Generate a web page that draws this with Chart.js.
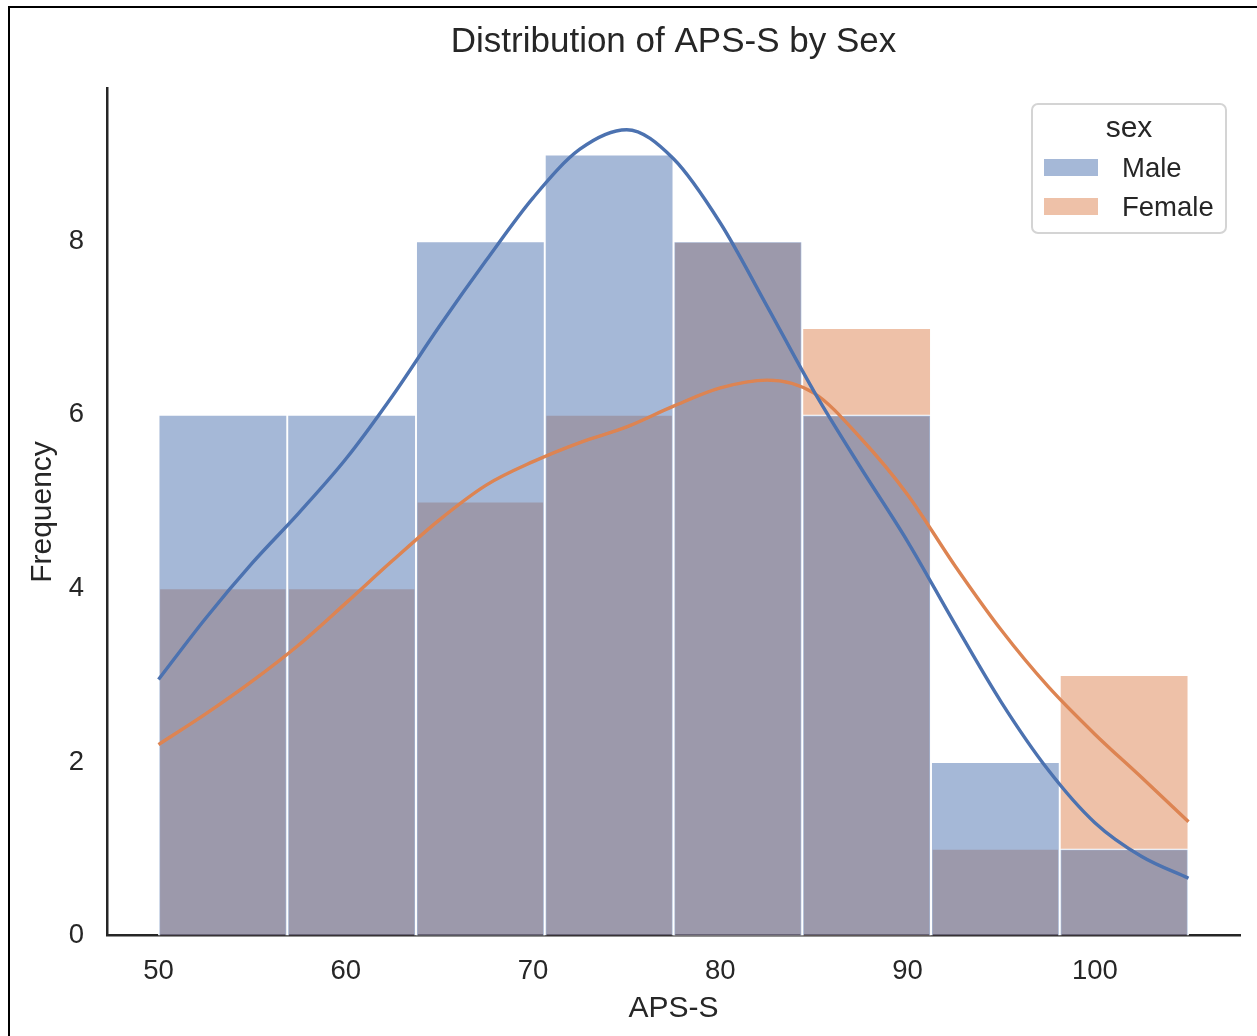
<!DOCTYPE html>
<html><head><meta charset="utf-8">
<script src="https://cdn.jsdelivr.net/npm/chart.js@4/dist/chart.umd.min.js"></script>
<style>
html,body{margin:0;padding:0;background:#fff;overflow:hidden;}
#wrap{position:relative;width:1257px;height:1036px;}
#frame{position:absolute;left:8px;top:6px;width:1300px;height:1100px;border:2px solid #000;box-sizing:border-box;pointer-events:none;}
canvas{position:absolute;left:0;top:0;}
</style></head><body>
<div id="wrap"><canvas id="c" width="1257" height="1036"></canvas><div id="frame"></div></div>
<script>
// ---- data ----
const binEdges = [50, 56.875, 63.75, 70.625, 77.5, 84.375, 91.25, 98.125, 105];
const maleCounts = [6, 6, 8, 9, 8, 6, 2, 1];
const femaleCounts = [4, 4, 5, 6, 8, 7, 1, 3];
const kdeX = [50, 52.5, 55, 57.5, 60, 62.5, 65, 67.5, 70, 72.5, 75, 77.5, 80, 82.5, 85, 87.5, 90, 92.5, 95, 97.5, 100, 102.5, 105];
const maleKde = [2.95, 3.65, 4.29, 4.87, 5.49, 6.22, 7.02, 7.78, 8.50, 9.06, 9.285, 8.95, 8.21, 7.25, 6.27, 5.39, 4.54, 3.60, 2.69, 1.91, 1.30, 0.91, 0.66];
const femaleKde = [2.20, 2.55, 2.93, 3.35, 3.83, 4.32, 4.79, 5.19, 5.46, 5.68, 5.86, 6.10, 6.31, 6.40, 6.25, 5.73, 5.08, 4.27, 3.52, 2.87, 2.32, 1.82, 1.31];
const xTicks = [50, 60, 70, 80, 90, 100];
const yTicks = [0, 2, 4, 6, 8];
const seriesNames = ['Male', 'Female'];
const legendTitle = 'sex';

const FONT = "'Liberation Sans', Arial, Helvetica, sans-serif";
const TXT = '#262626';
const maleLine = '#4c72b0', femaleLine = '#dd8452';
const maleFill = 'rgba(76,114,176,0.5)', femaleFill = 'rgba(221,132,82,0.5)';

const centers = maleCounts.map((_, i) => (binEdges[i] + binEdges[i + 1]) / 2);
const toXY = (xs, ys) => xs.map((x, i) => ({x: x, y: ys[i]}));

const legendPlugin = {
  id: 'seabornLegend',
  afterDraw(chart) {
    const ctx = chart.ctx, a = chart.chartArea;
    const bx = a.right - 208, by = a.top + 15.5, bw = 194, bh = 129, r = 6;
    ctx.save();
    ctx.beginPath();
    ctx.moveTo(bx + r, by);
    ctx.arcTo(bx + bw, by, bx + bw, by + bh, r);
    ctx.arcTo(bx + bw, by + bh, bx, by + bh, r);
    ctx.arcTo(bx, by + bh, bx, by, r);
    ctx.arcTo(bx, by, bx + bw, by, r);
    ctx.closePath();
    ctx.fillStyle = 'rgba(255,255,255,0.8)';
    ctx.fill();
    ctx.lineWidth = 2;
    ctx.strokeStyle = '#d4d4d4';
    ctx.stroke();
    ctx.fillStyle = TXT;
    ctx.textBaseline = 'alphabetic';
    ctx.font = '30px ' + FONT;
    ctx.textAlign = 'center';
    ctx.fillText(legendTitle, bx + 97, by + 33.3);
    ctx.font = '27.5px ' + FONT;
    ctx.textAlign = 'left';
    const fills = [maleFill, femaleFill];
    const patchY = [55, 94];
    const textY = [73.3, 112];
    seriesNames.forEach((n, i) => {
      ctx.fillStyle = '#fff';
      ctx.fillRect(bx + 12, by + patchY[i], 54, 17);
      ctx.fillStyle = fills[i];
      ctx.fillRect(bx + 12, by + patchY[i], 54, 17);
      ctx.fillStyle = TXT;
      ctx.fillText(n, bx + 90, by + textY[i]);
    });
    ctx.restore();
  }
};

new Chart(document.getElementById('c'), {
  type: 'bar',
  data: {
    datasets: [
      {type: 'line', label: seriesNames[0] + ' KDE', data: toXY(kdeX, maleKde), borderColor: maleLine, borderWidth: 3.4, pointRadius: 0, fill: false, cubicInterpolationMode: 'monotone', order: 0},
      {type: 'line', label: seriesNames[1] + ' KDE', data: toXY(kdeX, femaleKde), borderColor: femaleLine, borderWidth: 3.4, pointRadius: 0, fill: false, cubicInterpolationMode: 'monotone', order: 1},
      {type: 'bar', label: seriesNames[0], data: toXY(centers, maleCounts), backgroundColor: maleFill, borderColor: '#ffffff', borderWidth: 1.3, grouped: false, barPercentage: 1, categoryPercentage: 1, order: 2},
      {type: 'bar', label: seriesNames[1], data: toXY(centers, femaleCounts), backgroundColor: femaleFill, borderColor: '#ffffff', borderWidth: 1.3, grouped: false, barPercentage: 1, categoryPercentage: 1, order: 3}
    ]
  },
  options: {
    responsive: false,
    animation: false,
    devicePixelRatio: 1,
    layout: {padding: {left: 0, right: 17, top: 0, bottom: 0}},
    plugins: {
      legend: {display: false},
      tooltip: {enabled: false},
      title: {display: true, fullSize: false, text: 'Distribution of APS-S by Sex', color: TXT, font: {family: FONT, size: 35, weight: 'normal'}, padding: {top: 21, bottom: 25.5}}
    },
    scales: {
      x: {
        type: 'linear', min: 47.25, max: 107.75, offset: false,
        grid: {display: false, drawTicks: false},
        border: {display: true, color: TXT, width: 2.5},
        ticks: {stepSize: 10, includeBounds: false, padding: 19.8, color: TXT, font: {family: FONT, size: 27.5}, maxRotation: 0,
          callback: v => xTicks.includes(v) ? String(v) : ''},
        title: {display: true, text: 'APS-S', color: TXT, font: {family: FONT, size: 30}, padding: {top: 0, bottom: 9.7}},
        afterFit: s => { s.height = 100.5; }
      },
      y: {
        min: 0, max: 9.76,
        grid: {display: false, drawTicks: false},
        border: {display: true, color: TXT, width: 2.5},
        ticks: {stepSize: 2, includeBounds: false, padding: 23, color: TXT, font: {family: FONT, size: 27.5},
          callback: v => yTicks.includes(v) ? String(v) : ''},
        title: {display: true, text: 'Frequency', color: TXT, font: {family: FONT, size: 30}, padding: {top: 25, bottom: 0}},
        afterFit: s => { s.width = 107; }
      }
    }
  },
  plugins: [legendPlugin]
});
</script>
</body></html>
